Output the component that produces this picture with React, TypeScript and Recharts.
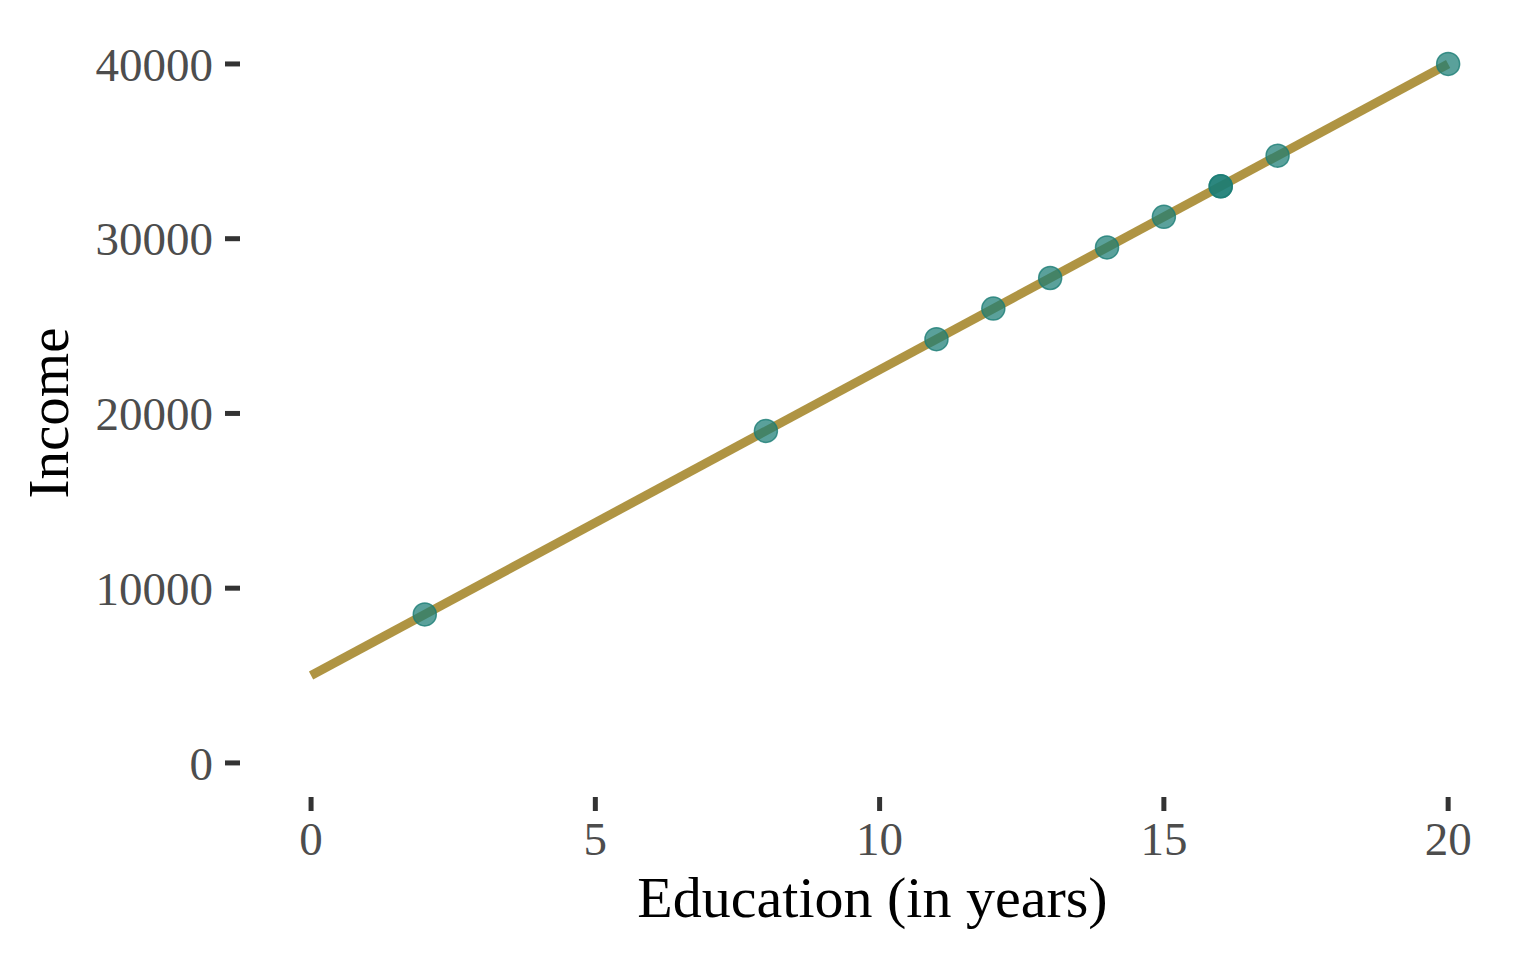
import { ComposedChart, Scatter, Line, XAxis, YAxis } from "recharts"

const education = [2, 8, 11, 12, 13, 14, 15, 16, 16, 17, 20]
const income = [8500, 19000, 24250, 26000, 27750, 29500, 31250, 33000, 33000, 34750, 40000]

const fitX = [0, 20]
const fitY = [5000, 40000]

const xTicks = [0, 5, 10, 15, 20]
const yTicks = [0, 10000, 20000, 30000, 40000]

const points = education.map((x, i) => ({ x, y: income[i] }))
const fit = fitX.map((x, i) => ({ x, y: fitY[i] }))

const serif = "'Liberation Serif', 'Times New Roman', serif"

const Dot = (p: any) => (
  <circle cx={p.cx} cy={p.cy} r={11.5} fill="#1b7d75" fillOpacity={0.72} stroke="#1b7d75" strokeOpacity={0.8} strokeWidth={1.5} />
)

const XTitle = ({ viewBox }: any) => {
  const cx = viewBox.x + viewBox.width / 2
  return (
    <text x={cx} y={917} textAnchor="middle" fontSize={58} fontFamily={serif} fill="#000">
      Education (in years)
    </text>
  )
}

const YTitle = ({ viewBox }: any) => {
  const cy = viewBox.y + viewBox.height / 2
  return (
    <text x={68} y={cy} transform={`rotate(-90, 68, ${cy})`} textAnchor="middle" fontSize={57} fontFamily={serif} fill="#000">
      Income
    </text>
  )
}

export default function App() {
  return (
    <div style={{ width: 1536, height: 960, background: "#fff" }}>
      <style>{"body{margin:0}"}</style>
      <ComposedChart width={1536} height={960} margin={{ top: 29, right: 31, bottom: 0, left: 0 }}>
        <XAxis
          type="number"
          dataKey="x"
          domain={[-1.25, 21]}
          allowDataOverflow
          ticks={xTicks}
          height={163}
          axisLine={false}
          tickLine={{ stroke: "#333", strokeWidth: 5 }}
          tickSize={14}
          tickMargin={11}
          tick={{ fill: "#4d4d4d", fontSize: 47, fontFamily: serif }}
          label={<XTitle />}
        />
        <YAxis
          type="number"
          dataKey="y"
          domain={[-1950, 42000]}
          allowDataOverflow
          ticks={yTicks}
          width={240}
          axisLine={false}
          tickLine={{ stroke: "#333", strokeWidth: 5 }}
          tickSize={15}
          tickMargin={12}
          tick={{ fill: "#4d4d4d", fontSize: 47, fontFamily: serif }}
          label={<YTitle />}
        />
        <Scatter data={points} dataKey="y" shape={Dot} isAnimationActive={false} />
        <Line
          data={fit}
          dataKey="y"
          type="linear"
          stroke="#a88b33"
          strokeOpacity={0.92}
          strokeWidth={9}
          dot={false}
          activeDot={false}
          isAnimationActive={false}
        />
      </ComposedChart>
    </div>
  )
}
